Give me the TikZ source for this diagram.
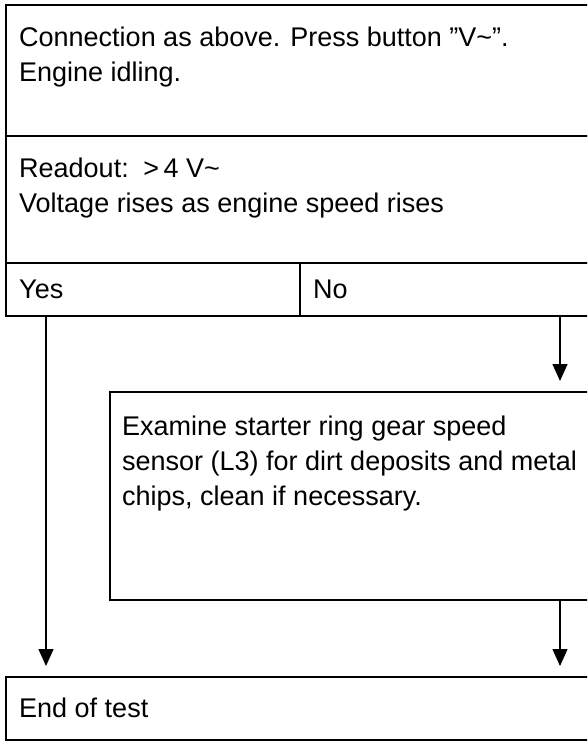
\documentclass[tikz,border=0pt]{standalone}
\usepackage{fontspec}
\setmainfont{Liberation Sans}
\usetikzlibrary{arrows.meta}
\begin{document}
\begin{tikzpicture}[x=1pt,y=-1pt,
  box/.style={draw=black, line width=1.4pt, rectangle, anchor=north west, inner sep=0pt, outer sep=0pt},
  txt/.style={anchor=base west, inner sep=0pt, font=\fontsize{27}{33}\selectfont},
  arr/.style={line width=1.4pt, -{Triangle[length=17pt,width=15pt]}, shorten >=11pt}]
\useasboundingbox (0,0) rectangle (587,741);
\fill[white] (0,0) rectangle (587,741);
\clip (0,0) rectangle (587,741);
% boxes (open to the right, clipped by the page edge)
\node[box, minimum width=620pt, minimum height=131pt] (q) at (6,5) {};
\node[box, minimum width=620pt, minimum height=127pt] (r) at (6,136) {};
\node[box, minimum width=294pt, minimum height=53pt] (yes) at (6,263) {};
\node[box, minimum width=320pt, minimum height=53pt] (no) at (300,263) {};
\node[box, minimum width=510pt, minimum height=208pt] (ex) at (110,392) {};
\node[box, minimum width=614pt, minimum height=63pt] (end) at (6,677) {};
% texts
\node[txt] (t1) at (19,47) {Connection as above. Press button ”V\textasciitilde”.};
\node[txt] (t2) at (19,82) {Engine idling.};
\node[txt] (t3) at (19,177) {Readout:\, >\,4 V\textasciitilde};
\node[txt] (t4) at (19,212) {Voltage rises as engine speed rises};
\node[txt] (t5) at (19,298) {Yes};
\node[txt] (t6) at (313,298) {No};
\node[txt] (t7) at (122,435) {Examine starter ring gear speed};
\node[txt] (t8) at (122,470) {sensor (L3) for dirt deposits and metal};
\node[txt] (t9) at (122,505) {chips, clean if necessary.};
\node[txt] (t10) at (19,717) {End of test};
% connectors
\coordinate (xa) at (46,0);
\coordinate (xb) at (560,0);
\draw[arr] (xa |- yes.south) -- (xa |- end.north);
\draw[arr] (xb |- no.south) -- (xb |- ex.north);
\draw[arr] (xb |- ex.south) -- (xb |- end.north);
\end{tikzpicture}
\end{document}
